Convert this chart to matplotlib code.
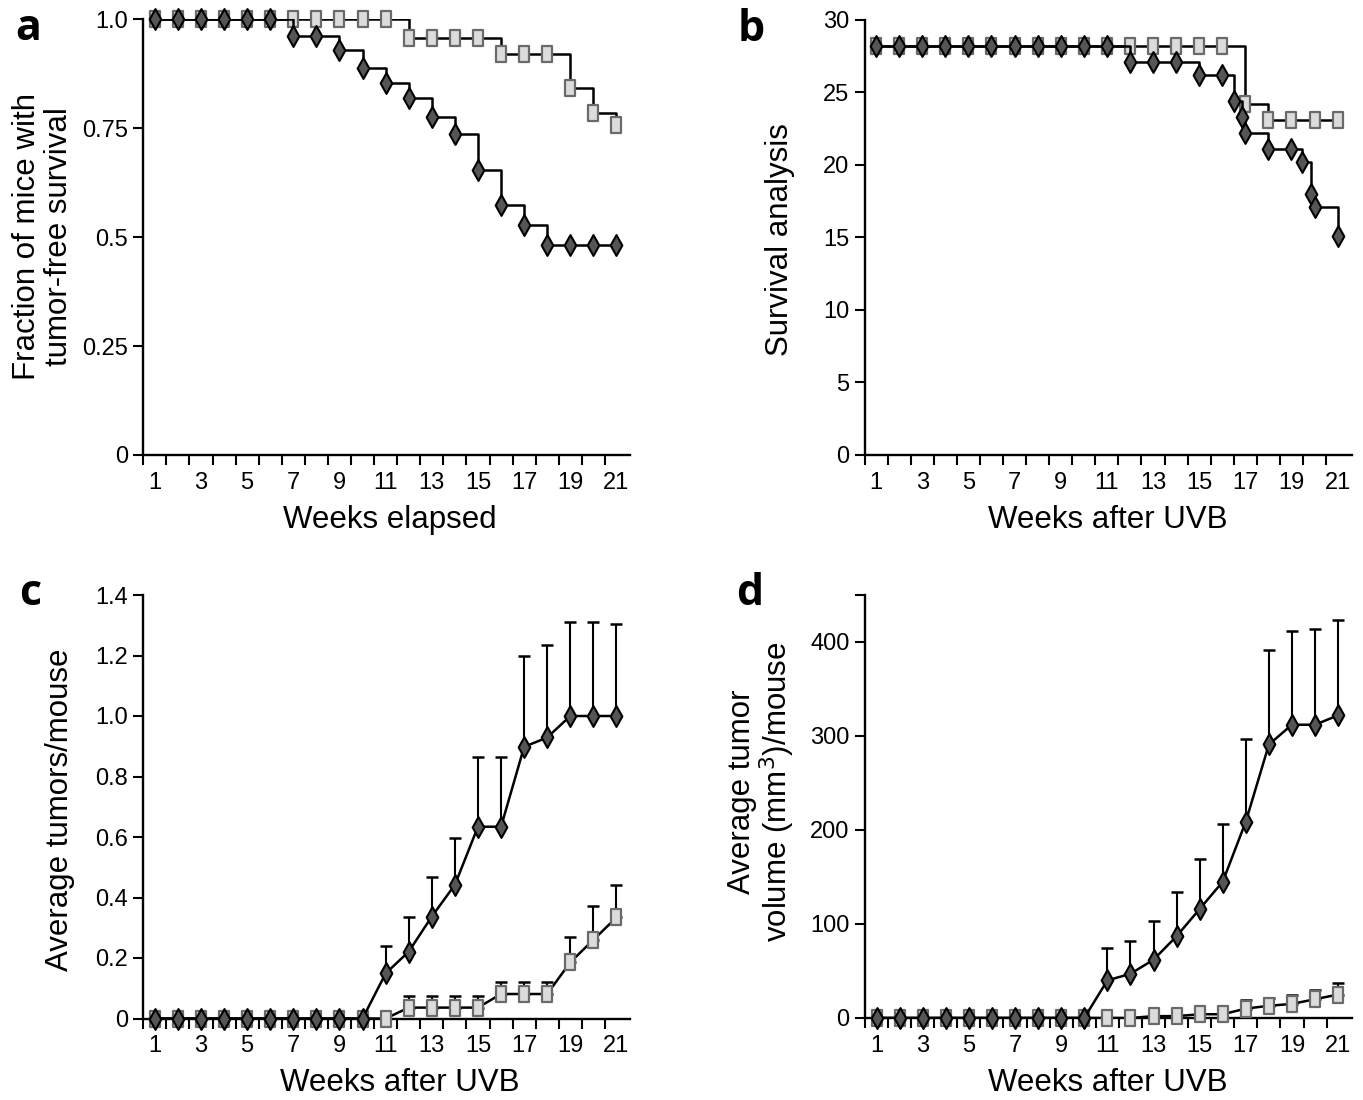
import numpy as np
import matplotlib
matplotlib.use('Agg')
import matplotlib.pyplot as plt
from matplotlib.path import Path

plt.rcParams['font.family'] = ['Liberation Sans', 'DejaVu Sans']

weeks = np.arange(1, 22)

# a - fraction of mice with tumor-free survival
a_dia = [1.0] * 6 + [0.963, 0.963, 0.929, 0.888, 0.854, 0.82, 0.776, 0.738,
                     0.654, 0.573, 0.528, 0.482, 0.482, 0.482, 0.482]
a_sq = [1.0] * 11 + [0.957] * 4 + [0.921] * 3 + [0.843, 0.786, 0.758]

# b - survival analysis (events not always on whole weeks)
b_dia_t = list(range(1, 17)) + [16.53, 16.84, 17, 18, 19, 19.46, 19.84, 20, 21]
b_dia = [28.2] * 11 + [27.1] * 3 + [26.2] * 2 + [24.4, 23.3, 22.2, 21.1, 21.1,
                                                 20.2, 18.0, 17.1, 15.1]
b_sq = [28.2] * 16 + [24.2] + [23.1] * 4

# c - average tumors/mouse (mean and top of error bar)
c_dia = [0] * 10 + [0.149, 0.221, 0.337, 0.442, 0.634, 0.634, 0.898, 0.929, 1.0, 1.0, 1.0]
c_dia_up = [0] * 10 + [0.24, 0.337, 0.468, 0.597, 0.863, 0.863, 1.2, 1.235, 1.31, 1.31, 1.305]
c_sq = [0] * 11 + [0.036] * 4 + [0.081] * 3 + [0.186, 0.26, 0.334]
c_sq_up = [0] * 11 + [0.074] * 4 + [0.121] * 3 + [0.271, 0.371, 0.442]

# d - average tumor volume (mm3)/mouse
d_dia = [0] * 10 + [40, 47, 62, 87, 116, 145, 209, 291, 312, 312, 322]
d_dia_up = [0] * 10 + [74, 82, 103, 134, 169, 206, 297, 391, 412, 414, 423]
d_sq = [0] * 12 + [2, 2, 4, 4, 10, 13, 15, 20, 25]
d_sq_up = [0] * 16 + [19, 21, 24, 30, 37]

W, H = 1363, 1100
fig = plt.figure(figsize=(W / 100, H / 100), dpi=100)

rect = Path([(-0.33, -0.5), (0.33, -0.5), (0.33, 0.5), (-0.33, 0.5), (-0.33, -0.5)],
            [1, 2, 2, 2, 79])
diam = Path([(0, -0.5), (0.28, 0), (0, 0.5), (-0.28, 0), (0, -0.5)], [1, 2, 2, 2, 79])
sq_style = dict(marker=rect, ms=11, mfc='#dcdcdc', mec='#6a6a6a', mew=1.6,
                ls='none', clip_on=False, zorder=4)
dia_style = dict(marker=diam, ms=15, mfc='#555555', mec='k', mew=1.5,
                 ls='none', clip_on=False, zorder=6)


def make_ax(px_left, px_top, px_bottom, ylim, yticks, ylabels):
    ax = fig.add_axes([px_left / W, 1 - px_bottom / H, 487 / W, (px_bottom - px_top) / H])
    for s in ['top', 'right']:
        ax.spines[s].set_visible(False)
    for s in ['left', 'bottom']:
        ax.spines[s].set_linewidth(1.7)
    ax.set_xlim(0.5, 21.6)
    ax.set_ylim(*ylim)
    ax.set_xticks(np.arange(0.5, 21, 1))
    ax.set_xticklabels([])
    ax.set_xticks(np.arange(1, 22, 2), minor=True)
    ax.set_xticklabels([str(w) for w in range(1, 22, 2)], minor=True)
    ax.tick_params(axis='x', which='major', length=7, width=1.5)
    ax.tick_params(axis='x', which='minor', length=0, pad=12, labelsize=17)
    ax.set_yticks(yticks)
    ax.set_yticklabels(ylabels)
    ax.tick_params(axis='y', length=7, width=1.5, pad=4, labelsize=17)
    return ax


def errs(ax, x, y, up):
    y = np.array(y, float)
    up = np.array(up, float)
    m = up > 0
    ax.errorbar(x[m], y[m], yerr=[np.zeros(m.sum()), up[m] - y[m]], fmt='none',
                ecolor='k', elinewidth=1.5, capsize=4, capthick=1.8, zorder=3)


# panel a
ax = make_ax(143.3, 19.5, 455, (0, 1.0), [0, 0.25, 0.5, 0.75, 1.0],
             ['0', '0.25', '0.5', '0.75', '1.0'])
ax.step(weeks, a_sq, where='post', color='k', lw=1.8, zorder=2)
ax.plot(weeks, a_sq, **sq_style)
ax.step(weeks, a_dia, where='post', color='k', lw=1.8, zorder=5)
ax.plot(weeks, a_dia, **dia_style)

# panel b
ax = make_ax(864.5, 20, 455, (0, 30), range(0, 31, 5), [str(v) for v in range(0, 31, 5)])
ax.step(weeks, b_sq, where='post', color='k', lw=1.8, zorder=2)
ax.plot(weeks, b_sq, **sq_style)
ax.step(b_dia_t, b_dia, where='post', color='k', lw=1.8, zorder=5)
ax.plot(b_dia_t, b_dia, **dia_style)

# panel c
ax = make_ax(143.3, 595, 1018.5, (0, 1.4), np.arange(0, 1.41, 0.2),
             ['0', '0.2', '0.4', '0.6', '0.8', '1.0', '1.2', '1.4'])
errs(ax, weeks, c_sq, c_sq_up)
ax.plot(weeks, c_sq, color='k', lw=1.8, zorder=2)
ax.plot(weeks, c_sq, **sq_style)
errs(ax, weeks, c_dia, c_dia_up)
ax.plot(weeks, c_dia, color='k', lw=1.8, zorder=5)
ax.plot(weeks, c_dia, **dia_style)

# panel d
ax = make_ax(865, 595, 1018, (0, 450), [0, 100, 200, 300, 400, 450],
             ['0', '100', '200', '300', '400', ''])
errs(ax, weeks, d_sq, d_sq_up)
ax.plot(weeks, d_sq, color='k', lw=1.8, zorder=2)
ax.plot(weeks, d_sq, **sq_style)
errs(ax, weeks, d_dia, d_dia_up)
ax.plot(weeks, d_dia, color='k', lw=1.8, zorder=5)
ax.plot(weeks, d_dia, **dia_style)

# axis titles
lab = dict(fontsize=22.5, ha='center', va='center')
fig.text(43 / W, 1 - 237 / H, 'Fraction of mice with\ntumor-free survival',
         rotation=90, linespacing=1.05, **lab)
fig.text(780 / W, 1 - 240 / H, 'Survival analysis', rotation=90, **lab)
fig.text(60 / W, 1 - 810 / H, 'Average tumors/mouse', rotation=90, **lab)
fig.text(762 / W, 1 - 792 / H, 'Average tumor\nvolume (mm$^3$)/mouse',
         rotation=90, linespacing=1.05, **lab)
fig.text(390 / W, 1 - 520 / H, 'Weeks elapsed', **lab)
fig.text(1108 / W, 1 - 520 / H, 'Weeks after UVB', **lab)
fig.text(400 / W, 1 - 1083 / H, 'Weeks after UVB', **lab)
fig.text(1108 / W, 1 - 1083 / H, 'Weeks after UVB', **lab)

# panel letters
let = dict(fontsize=31, fontweight='bold', family=['Open Sans', 'DejaVu Sans'],
           ha='center', va='baseline')
fig.text(28 / W, 1 - 40 / H, 'a', **let)
fig.text(751 / W, 1 - 41 / H, 'b', **let)
fig.text(30 / W, 1 - 605 / H, 'c', **let)
fig.text(750 / W, 1 - 605 / H, 'd', **let)

fig.savefig('out.png', dpi=100)
